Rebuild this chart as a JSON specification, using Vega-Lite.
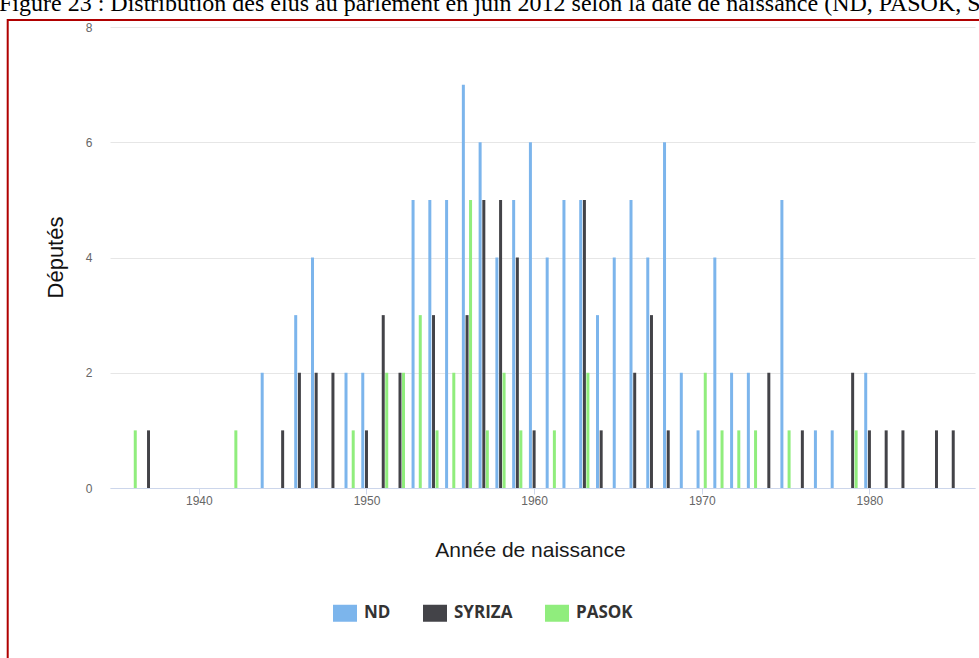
{
  "$schema": "https://vega.github.io/schema/vega-lite/v6.json",
  "width": 865,
  "height": 461,
  "autosize": {"type": "none"},
  "padding": {"left": 110, "top": 27, "right": 4, "bottom": 170},
  "background": "white",
  "title": {
    "text": "Figure 23 : Distribution des élus au parlement en juin 2012 selon la date de naissance (ND, PASOK, SYRIZA)",
    "anchor": "start",
    "frame": "group",
    "dx": -111,
    "dy": 24,
    "font": "Liberation Serif",
    "fontSize": 24,
    "fontWeight": "normal",
    "color": "#000000",
    "baseline": "alphabetic",
    "offset": 8
  },
  "datasets": {
    "births": [
      {"year": 1936, "party": "PASOK", "n": 1},
      {"year": 1937, "party": "SYRIZA", "n": 1},
      {"year": 1942, "party": "PASOK", "n": 1},
      {"year": 1944, "party": "ND", "n": 2},
      {"year": 1945, "party": "SYRIZA", "n": 1},
      {"year": 1946, "party": "ND", "n": 3},
      {"year": 1946, "party": "SYRIZA", "n": 2},
      {"year": 1947, "party": "ND", "n": 4},
      {"year": 1947, "party": "SYRIZA", "n": 2},
      {"year": 1948, "party": "SYRIZA", "n": 2},
      {"year": 1949, "party": "ND", "n": 2},
      {"year": 1949, "party": "PASOK", "n": 1},
      {"year": 1950, "party": "ND", "n": 2},
      {"year": 1950, "party": "SYRIZA", "n": 1},
      {"year": 1951, "party": "SYRIZA", "n": 3},
      {"year": 1951, "party": "PASOK", "n": 2},
      {"year": 1952, "party": "SYRIZA", "n": 2},
      {"year": 1952, "party": "PASOK", "n": 2},
      {"year": 1953, "party": "ND", "n": 5},
      {"year": 1953, "party": "PASOK", "n": 3},
      {"year": 1954, "party": "ND", "n": 5},
      {"year": 1954, "party": "SYRIZA", "n": 3},
      {"year": 1954, "party": "PASOK", "n": 1},
      {"year": 1955, "party": "ND", "n": 5},
      {"year": 1955, "party": "PASOK", "n": 2},
      {"year": 1956, "party": "ND", "n": 7},
      {"year": 1956, "party": "SYRIZA", "n": 3},
      {"year": 1956, "party": "PASOK", "n": 5},
      {"year": 1957, "party": "ND", "n": 6},
      {"year": 1957, "party": "SYRIZA", "n": 5},
      {"year": 1957, "party": "PASOK", "n": 1},
      {"year": 1958, "party": "ND", "n": 4},
      {"year": 1958, "party": "SYRIZA", "n": 5},
      {"year": 1958, "party": "PASOK", "n": 2},
      {"year": 1959, "party": "ND", "n": 5},
      {"year": 1959, "party": "SYRIZA", "n": 4},
      {"year": 1959, "party": "PASOK", "n": 1},
      {"year": 1960, "party": "ND", "n": 6},
      {"year": 1960, "party": "SYRIZA", "n": 1},
      {"year": 1961, "party": "ND", "n": 4},
      {"year": 1961, "party": "PASOK", "n": 1},
      {"year": 1962, "party": "ND", "n": 5},
      {"year": 1963, "party": "ND", "n": 5},
      {"year": 1963, "party": "SYRIZA", "n": 5},
      {"year": 1963, "party": "PASOK", "n": 2},
      {"year": 1964, "party": "ND", "n": 3},
      {"year": 1964, "party": "SYRIZA", "n": 1},
      {"year": 1965, "party": "ND", "n": 4},
      {"year": 1966, "party": "ND", "n": 5},
      {"year": 1966, "party": "SYRIZA", "n": 2},
      {"year": 1967, "party": "ND", "n": 4},
      {"year": 1967, "party": "SYRIZA", "n": 3},
      {"year": 1968, "party": "ND", "n": 6},
      {"year": 1968, "party": "SYRIZA", "n": 1},
      {"year": 1969, "party": "ND", "n": 2},
      {"year": 1970, "party": "ND", "n": 1},
      {"year": 1970, "party": "PASOK", "n": 2},
      {"year": 1971, "party": "ND", "n": 4},
      {"year": 1971, "party": "PASOK", "n": 1},
      {"year": 1972, "party": "ND", "n": 2},
      {"year": 1972, "party": "PASOK", "n": 1},
      {"year": 1973, "party": "ND", "n": 2},
      {"year": 1973, "party": "PASOK", "n": 1},
      {"year": 1974, "party": "SYRIZA", "n": 2},
      {"year": 1975, "party": "ND", "n": 5},
      {"year": 1975, "party": "PASOK", "n": 1},
      {"year": 1976, "party": "SYRIZA", "n": 1},
      {"year": 1977, "party": "ND", "n": 1},
      {"year": 1978, "party": "ND", "n": 1},
      {"year": 1979, "party": "SYRIZA", "n": 2},
      {"year": 1979, "party": "PASOK", "n": 1},
      {"year": 1980, "party": "ND", "n": 2},
      {"year": 1980, "party": "SYRIZA", "n": 1},
      {"year": 1981, "party": "SYRIZA", "n": 1},
      {"year": 1982, "party": "SYRIZA", "n": 1},
      {"year": 1984, "party": "SYRIZA", "n": 1},
      {"year": 1985, "party": "SYRIZA", "n": 1}
    ],
    "frame": [{"left": 1928.6, "right": 1988.0, "top": 8.12, "bottom": -3.5}]
  },
  "layer": [
    {
      "data": {"name": "frame"},
      "mark": {"type": "rect", "fillOpacity": 0, "fill": "white", "stroke": "#b00000", "strokeWidth": 2, "clip": false},
      "encoding": {
        "x": {"field": "left", "type": "quantitative", "scale": {"domain": [1935, 1986], "nice": false, "zero": false}, "title": "Année de naissance", "axis": {"values": [1940, 1950, 1960, 1970, 1980], "format": "d"}},
        "x2": {"field": "right"},
        "y": {"field": "top", "type": "quantitative", "scale": {"domain": [0, 8], "nice": false}, "title": "Députés", "axis": {"values": [0, 2, 4, 6, 8]}},
        "y2": {"field": "bottom"}
      }
    },
    {
      "data": {"name": "births"},
      "transform": [{"filter": "datum.party === 'ND'"}],
      "mark": {"type": "bar", "width": 3, "xOffset": -3.7},
      "encoding": {
        "x": {"field": "year", "type": "quantitative", "scale": {"domain": [1935, 1986], "nice": false, "zero": false}, "title": "Année de naissance", "axis": {"values": [1940, 1950, 1960, 1970, 1980], "format": "d"}},
        "y": {"field": "n", "type": "quantitative", "scale": {"domain": [0, 8], "nice": false}, "title": "Députés", "axis": {"values": [0, 2, 4, 6, 8]}},
        "color": {"field": "party", "type": "nominal", "scale": {"domain": ["ND", "SYRIZA", "PASOK"], "range": ["#7cb5ec", "#434348", "#90ed7d"]}, "legend": {"orient": "none", "legendX": 225, "legendY": 576, "direction": "horizontal", "title": null}}
      }
    },
    {
      "data": {"name": "births"},
      "transform": [{"filter": "datum.party === 'SYRIZA'"}],
      "mark": {"type": "bar", "width": 3, "xOffset": 0},
      "encoding": {
        "x": {"field": "year", "type": "quantitative", "scale": {"domain": [1935, 1986], "nice": false, "zero": false}, "title": "Année de naissance", "axis": {"values": [1940, 1950, 1960, 1970, 1980], "format": "d"}},
        "y": {"field": "n", "type": "quantitative", "scale": {"domain": [0, 8], "nice": false}, "title": "Députés", "axis": {"values": [0, 2, 4, 6, 8]}},
        "color": {"field": "party", "type": "nominal", "scale": {"domain": ["ND", "SYRIZA", "PASOK"], "range": ["#7cb5ec", "#434348", "#90ed7d"]}, "legend": {"orient": "none", "legendX": 225, "legendY": 576, "direction": "horizontal", "title": null}}
      }
    },
    {
      "data": {"name": "births"},
      "transform": [{"filter": "datum.party === 'PASOK'"}],
      "mark": {"type": "bar", "width": 3, "xOffset": 3.5},
      "encoding": {
        "x": {"field": "year", "type": "quantitative", "scale": {"domain": [1935, 1986], "nice": false, "zero": false}, "title": "Année de naissance", "axis": {"values": [1940, 1950, 1960, 1970, 1980], "format": "d"}},
        "y": {"field": "n", "type": "quantitative", "scale": {"domain": [0, 8], "nice": false}, "title": "Députés", "axis": {"values": [0, 2, 4, 6, 8]}},
        "color": {"field": "party", "type": "nominal", "scale": {"domain": ["ND", "SYRIZA", "PASOK"], "range": ["#7cb5ec", "#434348", "#90ed7d"]}, "legend": {"orient": "none", "legendX": 225, "legendY": 576, "direction": "horizontal", "title": null}}
      }
    }
  ],
  "config": {
    "view": {"stroke": null},
    "axisX": {
      "domainColor": "#ccd6eb",
      "tickColor": "#ccd6eb",
      "tickSize": 6,
      "labelColor": "#666666",
      "labelFontSize": 12,
      "labelFont": "Liberation Sans",
      "labelPadding": 1,
      "grid": false,
      "titleFont": "Liberation Sans",
      "titleFontSize": 21,
      "titleFontWeight": "normal",
      "titleColor": "#1a1a1a",
      "titleX": 420,
      "titleY": 62,
      "titleBaseline": "middle"
    },
    "axisY": {
      "domain": false,
      "ticks": false,
      "gridColor": "#e6e6e6",
      "labelColor": "#666666",
      "labelFontSize": 12,
      "labelFont": "Liberation Sans",
      "labelPadding": 18,
      "titleFont": "Liberation Sans",
      "titleFontSize": 22,
      "titleFontWeight": "normal",
      "titleColor": "#111111",
      "titleX": -55,
      "titleY": 230,
      "titleBaseline": "middle",
      "titleAngle": -90
    },
    "legend": {
      "symbolType": "M-1.2,-0.85H1.2V0.85H-1.2Z",
      "symbolSize": 400,
      "symbolStrokeWidth": 0,
      "labelFont": "Open Sans",
      "labelFontSize": 17,
      "labelFontWeight": "bold",
      "labelColor": "#333333",
      "labelOffset": 9,
      "columnPadding": 32
    }
  }
}
